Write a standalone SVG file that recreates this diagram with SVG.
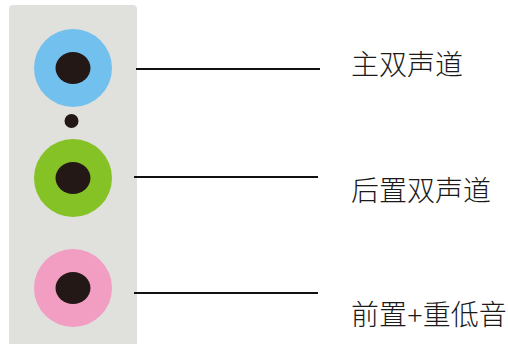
<svg xmlns="http://www.w3.org/2000/svg" width="508" height="344" viewBox="0 0 508 344">
<style>
.hole{fill:#231815}
.lead{stroke:#111;stroke-width:2;fill:none}
text{font-family:"Liberation Serif","Noto Sans CJK SC",serif;font-size:28px;fill:#1a1a1a}
.cjk{font-family:"Noto Sans CJK SC","Liberation Serif",sans-serif;font-weight:300}
</style>
<rect width="508" height="344" fill="#fff"/>
<g id="panel"><rect x="9" y="5" width="128" height="345" rx="4" fill="#e0e0dd"/></g>
<g id="jack-blue"><circle cx="73" cy="68" r="39" fill="#72c0ee"/><ellipse class="hole" cx="73" cy="68" rx="17.5" ry="16"/></g>
<g id="indicator"><circle class="hole" cx="71.500" cy="121" r="7"/></g>
<g id="jack-green"><circle cx="73" cy="178" r="39" fill="#84c225"/><ellipse class="hole" cx="73" cy="178" rx="17.5" ry="16"/></g>
<g id="jack-pink"><circle cx="73" cy="288" r="39" fill="#f19ec2"/><ellipse class="hole" cx="73" cy="288" rx="17.5" ry="16"/></g>
<g id="connectors">
<line class="lead" x1="136" y1="69" x2="320" y2="69"/>
<line class="lead" x1="134" y1="177" x2="318" y2="177"/>
<line class="lead" x1="134" y1="293" x2="318" y2="293"/>
</g>
<g id="label-main"><text class="cjk" x="351" y="75">主双声道</text></g>
<g id="label-rear"><text class="cjk" x="351" y="201">后置双声道</text></g>
<g id="label-front"><text class="cjk" x="351" y="325">前置<tspan font-family="Liberation Serif">+</tspan>重低音</text></g>
</svg>
